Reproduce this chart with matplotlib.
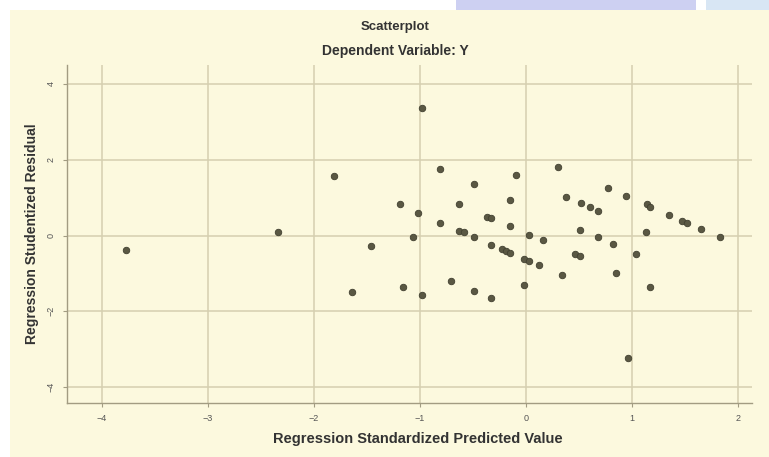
#!/usr/bin/env python3
# SPSS-style residual scatterplot: studentized residual vs standardized predicted value
import matplotlib
matplotlib.use("Agg")
import matplotlib.pyplot as plt
from matplotlib.patches import Rectangle

pred = [-3.77, -2.34, -1.81, -0.98, -0.81, -0.10, -0.49, -0.15, -1.19, -1.02,
        -0.63, -0.37, -0.33, -0.81, -0.15, -0.63, -0.59, -1.07, -0.49, 0.03,
        -1.46, -0.33, -0.23, -0.19, -0.15, -0.02, 0.03, 0.12, 0.16, -0.71,
        -0.02, -1.64, -1.16, -0.98, -0.49, -0.33, 0.30, 0.77, 0.94, 0.38,
        0.52, 0.60, 0.68, 1.14, 1.17, 1.35, 1.47, 1.52, 1.65, 1.83,
        0.51, 1.13, 0.68, 0.82, 1.04, 0.46, 0.51, 0.34, 0.85, 1.17, 0.96]
resid = [-0.38, 0.08, 1.57, 3.37, 1.75, 1.61, 1.35, 0.95, 0.83, 0.60,
         0.82, 0.50, 0.45, 0.33, 0.25, 0.12, 0.08, -0.03, -0.03, 0.02,
         -0.28, -0.24, -0.36, -0.42, -0.46, -0.61, -0.67, -0.78, -0.11, -1.20,
         -1.30, -1.48, -1.36, -1.56, -1.46, -1.64, 1.82, 1.25, 1.04, 1.02,
         0.86, 0.75, 0.64, 0.83, 0.76, 0.54, 0.39, 0.34, 0.17, -0.03,
         0.15, 0.10, -0.05, -0.22, -0.49, -0.49, -0.55, -1.03, -0.98, -1.35, -3.22]
xticks = [-4, -3, -2, -1, 0, 1, 2]
yticks = [-4, -2, 0, 2, 4]

plt.rcParams["font.family"] = ["Liberation Sans", "DejaVu Sans"]
cream = "#fcf9de"
grid = "#d6cfb0"

fig = plt.figure(figsize=(7.69, 4.57), dpi=100)
fig.patch.set_facecolor("white")
# cream chart panel plus the bits of page showing above it
fig.patches.append(Rectangle((10/769, 0), 1, 1 - 10/457, transform=fig.transFigure,
                             facecolor=cream, edgecolor="none", zorder=-2))
fig.patches.append(Rectangle((456/769, 1 - 10/457), 240/769, 10/457, transform=fig.transFigure,
                             facecolor="#cdd0f2", edgecolor="none", zorder=-1))
fig.patches.append(Rectangle((706/769, 1 - 10/457), 63/769, 10/457, transform=fig.transFigure,
                             facecolor="#d8e6f4", edgecolor="none", zorder=-1))

ax = fig.add_axes([67/769, 1 - 403/457, (752 - 67)/769, (403 - 65)/457])
ax.set_facecolor(cream)
ax.scatter(pred, resid, s=22, color="#5a5843", edgecolors="#414030", linewidths=0.6, zorder=3)

ax.set_xlim(-4.33, 2.13)
ax.set_ylim(-4.42, 4.50)
ax.set_xticks(xticks)
ax.set_yticks(yticks)
ax.grid(True, color=grid, linewidth=1.1)
ax.set_axisbelow(True)
for side in ["top", "right"]:
    ax.spines[side].set_visible(False)
for side in ["left", "bottom"]:
    ax.spines[side].set_color("#a29c82")
    ax.spines[side].set_linewidth(1.0)
ax.tick_params(length=3, color="#a29c82", labelsize=6.5, labelcolor="#555555", pad=5)
for lab in ax.get_yticklabels():
    lab.set_rotation(90)
    lab.set_va("center")

ax.set_xlabel("Regression Standardized Predicted Value", fontsize=10.5, fontweight="bold",
              color="#333333", labelpad=9)
ax.xaxis.set_label_coords(0.512, -0.085)
ax.set_ylabel("Regression Studentized Residual", fontsize=10, fontweight="bold",
              color="#333333", labelpad=6)
fig.text(395/769, 1 - 27/457, "Scatterplot", ha="center", va="center",
         fontsize=9.5, fontweight="bold", color="#333333")
fig.text(395/769, 1 - 51/457, "Dependent Variable: Y", ha="center", va="center",
         fontsize=10, fontweight="bold", color="#333333")

plt.savefig("out.png", dpi=100, facecolor=fig.get_facecolor())
